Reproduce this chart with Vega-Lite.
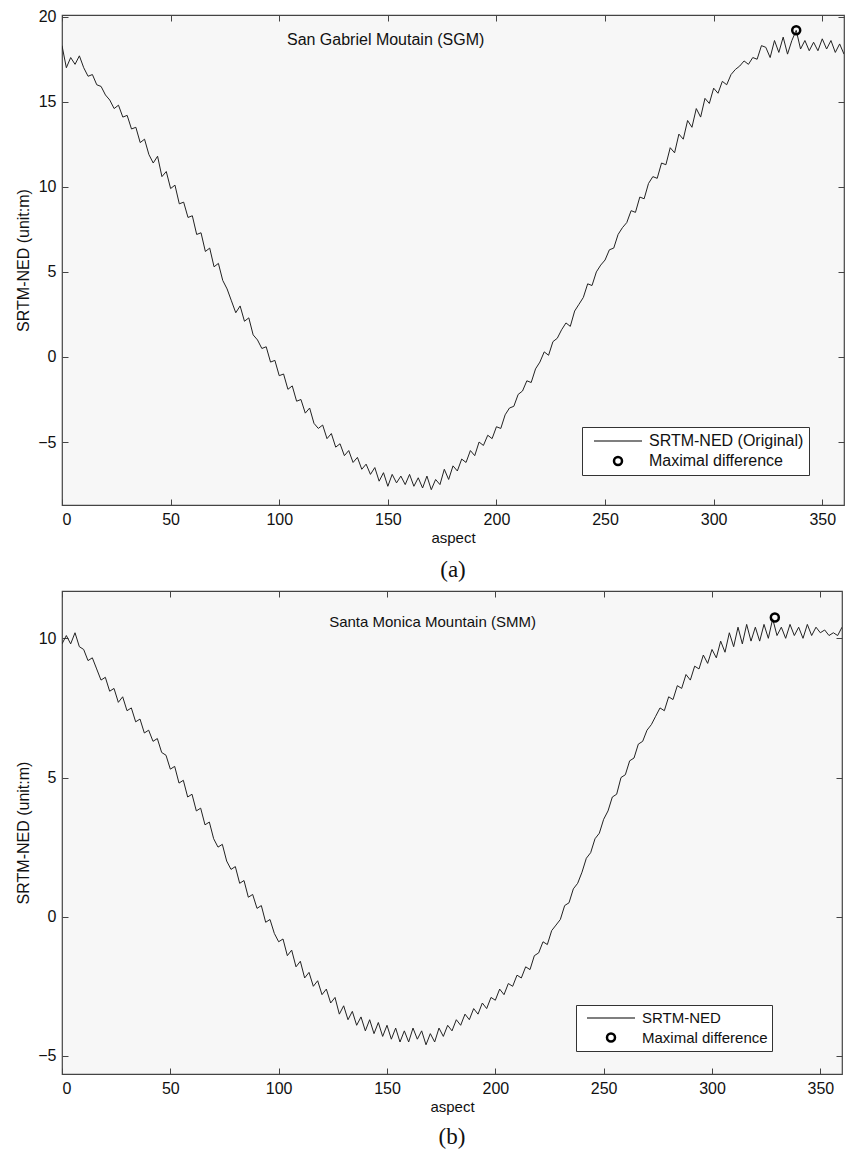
{
  "$schema": "https://vega.github.io/schema/vega-lite/v6.json",
  "background": "white",
  "padding": {"left": 15, "top": 8, "right": 0, "bottom": 0},
  "spacing": 6,
  "config": {
    "font": "Liberation Sans",
    "view": {"fill": "#f7f7f7", "stroke": "#444", "strokeWidth": 1.2},
    "axis": {"domain": false, "grid": false, "tickColor": "#444", "tickSize": -6, "labelPadding": 12, "labelFontSize": 16, "labelColor": "#111", "titleFontSize": 16, "titleFontWeight": "normal", "titleColor": "#111", "labelFont": "Liberation Sans", "titleFont": "Liberation Sans"},
    "legend": {"orient": "none", "strokeColor": "#333", "fillColor": "white", "labelLimit": 300, "labelColor": "#111", "labelFont": "Liberation Sans", "symbolOffset": 22, "labelOffset": 22},
    "title": {"font": "Liberation Serif", "fontWeight": "normal", "color": "#111"}
  },
  "datasets": {
    "a": [
      {"x":0,"y":18.3},{"x":2,"y":17.0},{"x":4,"y":17.6},{"x":6,"y":17.2},{"x":8,"y":17.7},{"x":10,"y":17.0},{"x":12,"y":16.5},{"x":14,"y":16.6},{"x":16,"y":16.0},{"x":18,"y":15.9},
      {"x":20,"y":15.4},{"x":22,"y":15.1},{"x":24,"y":14.6},{"x":26,"y":14.8},{"x":28,"y":14.1},{"x":30,"y":14.2},{"x":32,"y":13.4},{"x":34,"y":13.5},{"x":36,"y":12.6},{"x":38,"y":12.8},
      {"x":40,"y":11.9},{"x":42,"y":11.4},{"x":44,"y":11.8},{"x":46,"y":10.6},{"x":48,"y":10.9},{"x":50,"y":9.9},{"x":52,"y":10.1},{"x":54,"y":9.0},{"x":56,"y":9.1},{"x":58,"y":8.2},
      {"x":60,"y":8.3},{"x":62,"y":7.2},{"x":64,"y":7.3},{"x":66,"y":6.2},{"x":68,"y":6.4},{"x":70,"y":5.3},{"x":72,"y":5.5},{"x":74,"y":4.5},{"x":76,"y":4.0},{"x":78,"y":3.3},
      {"x":80,"y":2.6},{"x":82,"y":3.0},{"x":84,"y":2.1},{"x":86,"y":2.3},{"x":88,"y":1.3},{"x":90,"y":1.0},{"x":92,"y":0.5},{"x":94,"y":0.6},{"x":96,"y":-0.3},{"x":98,"y":-0.2},
      {"x":100,"y":-1.1},{"x":102,"y":-1.0},{"x":104,"y":-1.9},{"x":106,"y":-1.7},{"x":108,"y":-2.6},{"x":110,"y":-2.5},{"x":112,"y":-3.3},{"x":114,"y":-3.0},{"x":116,"y":-3.9},{"x":118,"y":-4.2},
      {"x":120,"y":-4.0},{"x":122,"y":-4.8},{"x":124,"y":-4.5},{"x":126,"y":-5.3},{"x":128,"y":-5.1},{"x":130,"y":-5.8},{"x":132,"y":-5.5},{"x":134,"y":-6.2},{"x":136,"y":-5.9},{"x":138,"y":-6.6},
      {"x":140,"y":-6.3},{"x":142,"y":-6.9},{"x":144,"y":-6.5},{"x":146,"y":-7.3},{"x":148,"y":-6.8},{"x":150,"y":-7.6},{"x":152,"y":-6.9},{"x":154,"y":-7.4},{"x":156,"y":-7.0},{"x":158,"y":-7.5},
      {"x":160,"y":-6.9},{"x":162,"y":-7.6},{"x":164,"y":-7.1},{"x":166,"y":-7.7},{"x":168,"y":-7.0},{"x":170,"y":-7.8},{"x":172,"y":-7.2},{"x":174,"y":-7.5},{"x":176,"y":-6.6},{"x":178,"y":-7.2},
      {"x":180,"y":-6.4},{"x":182,"y":-6.7},{"x":184,"y":-6.0},{"x":186,"y":-6.2},{"x":188,"y":-5.5},{"x":190,"y":-5.8},{"x":192,"y":-5.0},{"x":194,"y":-5.2},{"x":196,"y":-4.6},{"x":198,"y":-4.8},
      {"x":200,"y":-4.1},{"x":202,"y":-4.2},{"x":204,"y":-3.4},{"x":206,"y":-3.0},{"x":208,"y":-2.9},{"x":210,"y":-2.2},{"x":212,"y":-2.0},{"x":214,"y":-1.4},{"x":216,"y":-1.5},{"x":218,"y":-0.7},
      {"x":220,"y":-0.3},{"x":222,"y":0.3},{"x":224,"y":0.1},{"x":226,"y":0.9},{"x":228,"y":1.1},{"x":230,"y":1.6},{"x":232,"y":2.0},{"x":234,"y":1.8},{"x":236,"y":2.7},{"x":238,"y":3.1},
      {"x":240,"y":3.5},{"x":242,"y":4.3},{"x":244,"y":4.2},{"x":246,"y":5.0},{"x":248,"y":5.4},{"x":250,"y":5.7},{"x":252,"y":6.3},{"x":254,"y":6.4},{"x":256,"y":7.2},{"x":258,"y":7.6},
      {"x":260,"y":7.9},{"x":262,"y":8.6},{"x":264,"y":8.5},{"x":266,"y":9.4},{"x":268,"y":9.3},{"x":270,"y":10.2},{"x":272,"y":10.6},{"x":274,"y":10.5},{"x":276,"y":11.4},{"x":278,"y":11.3},
      {"x":280,"y":12.3},{"x":282,"y":12.0},{"x":284,"y":13.1},{"x":286,"y":12.8},{"x":288,"y":13.9},{"x":290,"y":13.5},{"x":292,"y":14.6},{"x":294,"y":14.1},{"x":296,"y":15.2},{"x":298,"y":14.9},
      {"x":300,"y":15.8},{"x":302,"y":15.5},{"x":304,"y":16.2},{"x":306,"y":16.0},{"x":308,"y":16.6},{"x":310,"y":16.9},{"x":312,"y":17.1},{"x":314,"y":17.4},{"x":316,"y":17.2},{"x":318,"y":17.6},
      {"x":320,"y":17.5},{"x":322,"y":18.3},{"x":324,"y":18.2},{"x":326,"y":17.6},{"x":328,"y":18.6},{"x":330,"y":17.9},{"x":332,"y":18.8},{"x":334,"y":17.8},{"x":336,"y":18.6},{"x":338,"y":19.2},
      {"x":340,"y":18.1},{"x":342,"y":18.6},{"x":344,"y":18.0},{"x":346,"y":18.5},{"x":348,"y":18.0},{"x":350,"y":18.7},{"x":352,"y":18.1},{"x":354,"y":18.6},{"x":356,"y":17.9},{"x":358,"y":18.4},
      {"x":360,"y":17.8}
    ],
    "b": [
      {"x":0,"y":9.8},{"x":2,"y":10.1},{"x":4,"y":9.8},{"x":6,"y":10.2},{"x":8,"y":9.7},{"x":10,"y":9.6},{"x":12,"y":9.2},{"x":14,"y":9.3},{"x":16,"y":8.9},{"x":18,"y":8.5},
      {"x":20,"y":8.6},{"x":22,"y":8.1},{"x":24,"y":8.2},{"x":26,"y":7.7},{"x":28,"y":7.9},{"x":30,"y":7.4},{"x":32,"y":7.5},{"x":34,"y":7.0},{"x":36,"y":7.1},{"x":38,"y":6.6},
      {"x":40,"y":6.7},{"x":42,"y":6.3},{"x":44,"y":6.4},{"x":46,"y":5.9},{"x":48,"y":5.8},{"x":50,"y":5.3},{"x":52,"y":5.4},{"x":54,"y":4.8},{"x":56,"y":4.9},{"x":58,"y":4.3},
      {"x":60,"y":4.4},{"x":62,"y":3.8},{"x":64,"y":3.9},{"x":66,"y":3.3},{"x":68,"y":3.4},{"x":70,"y":2.8},{"x":72,"y":2.5},{"x":74,"y":2.6},{"x":76,"y":2.0},{"x":78,"y":1.7},
      {"x":80,"y":1.8},{"x":82,"y":1.2},{"x":84,"y":1.3},{"x":86,"y":0.7},{"x":88,"y":0.8},{"x":90,"y":0.3},{"x":92,"y":0.4},{"x":94,"y":-0.2},{"x":96,"y":-0.1},{"x":98,"y":-0.6},
      {"x":100,"y":-0.9},{"x":102,"y":-0.8},{"x":104,"y":-1.4},{"x":106,"y":-1.2},{"x":108,"y":-1.8},{"x":110,"y":-1.6},{"x":112,"y":-2.2},{"x":114,"y":-2.0},{"x":116,"y":-2.5},{"x":118,"y":-2.3},
      {"x":120,"y":-2.8},{"x":122,"y":-2.6},{"x":124,"y":-3.1},{"x":126,"y":-2.9},{"x":128,"y":-3.5},{"x":130,"y":-3.2},{"x":132,"y":-3.7},{"x":134,"y":-3.4},{"x":136,"y":-3.9},{"x":138,"y":-3.6},
      {"x":140,"y":-4.1},{"x":142,"y":-3.7},{"x":144,"y":-4.2},{"x":146,"y":-3.8},{"x":148,"y":-4.3},{"x":150,"y":-3.9},{"x":152,"y":-4.4},{"x":154,"y":-4.0},{"x":156,"y":-4.5},{"x":158,"y":-4.1},
      {"x":160,"y":-4.5},{"x":162,"y":-4.0},{"x":164,"y":-4.4},{"x":166,"y":-4.1},{"x":168,"y":-4.6},{"x":170,"y":-4.2},{"x":172,"y":-4.5},{"x":174,"y":-4.0},{"x":176,"y":-4.3},{"x":178,"y":-3.9},
      {"x":180,"y":-4.1},{"x":182,"y":-3.7},{"x":184,"y":-3.9},{"x":186,"y":-3.5},{"x":188,"y":-3.7},{"x":190,"y":-3.3},{"x":192,"y":-3.5},{"x":194,"y":-3.1},{"x":196,"y":-3.3},{"x":198,"y":-2.9},
      {"x":200,"y":-3.0},{"x":202,"y":-2.6},{"x":204,"y":-2.8},{"x":206,"y":-2.4},{"x":208,"y":-2.5},{"x":210,"y":-2.1},{"x":212,"y":-2.2},{"x":214,"y":-1.8},{"x":216,"y":-1.9},{"x":218,"y":-1.4},
      {"x":220,"y":-1.3},{"x":222,"y":-0.9},{"x":224,"y":-1.0},{"x":226,"y":-0.5},{"x":228,"y":-0.3},{"x":230,"y":-0.1},{"x":232,"y":0.4},{"x":234,"y":0.5},{"x":236,"y":1.0},{"x":238,"y":1.2},
      {"x":240,"y":1.6},{"x":242,"y":2.1},{"x":244,"y":2.3},{"x":246,"y":2.8},{"x":248,"y":3.0},{"x":250,"y":3.5},{"x":252,"y":3.8},{"x":254,"y":4.3},{"x":256,"y":4.4},{"x":258,"y":5.0},
      {"x":260,"y":5.1},{"x":262,"y":5.6},{"x":264,"y":5.7},{"x":266,"y":6.2},{"x":268,"y":6.3},{"x":270,"y":6.7},{"x":272,"y":6.9},{"x":274,"y":7.2},{"x":276,"y":7.5},{"x":278,"y":7.4},
      {"x":280,"y":7.9},{"x":282,"y":7.8},{"x":284,"y":8.3},{"x":286,"y":8.2},{"x":288,"y":8.7},{"x":290,"y":8.5},{"x":292,"y":9.0},{"x":294,"y":8.9},{"x":296,"y":9.4},{"x":298,"y":9.1},
      {"x":300,"y":9.6},{"x":302,"y":9.3},{"x":304,"y":9.9},{"x":306,"y":9.5},{"x":308,"y":10.2},{"x":310,"y":9.7},{"x":312,"y":10.4},{"x":314,"y":9.8},{"x":316,"y":10.5},{"x":318,"y":9.9},
      {"x":320,"y":10.4},{"x":322,"y":9.9},{"x":324,"y":10.5},{"x":326,"y":10.0},{"x":328,"y":10.7},{"x":330,"y":10.1},{"x":332,"y":10.4},{"x":334,"y":10.0},{"x":336,"y":10.5},{"x":338,"y":10.1},
      {"x":340,"y":10.4},{"x":342,"y":10.0},{"x":344,"y":10.5},{"x":346,"y":10.1},{"x":348,"y":10.4},{"x":350,"y":10.2},{"x":352,"y":10.3},{"x":354,"y":10.1},{"x":356,"y":10.2},{"x":358,"y":10.1},
      {"x":360,"y":10.4}
    ]
  },
  "resolve": {"scale": {"x": "independent", "y": "independent", "shape": "independent", "strokeWidth": "independent", "size": "independent"}, "legend": {"shape": "independent", "strokeWidth": "independent", "size": "independent"}},
  "vconcat": [
    {
      "width": 782,
      "height": 490,
      "title": {"text": "(a)", "orient": "bottom", "fontSize": 23, "offset": 14},
      "layer": [
        {
          "data": {"name": "a"},
          "mark": {"type": "line", "color": "#222", "strokeWidth": 1, "clip": true},
          "encoding": {
            "x": {"field": "x", "type": "quantitative", "scale": {"domain": [0, 360], "nice": false, "zero": false},
                  "axis": {"orient": "bottom", "values": [0, 50, 100, 150, 200, 250, 300, 350], "title": "aspect", "titleFontSize": 15, "titlePadding": 3}},
            "y": {"field": "y", "type": "quantitative", "scale": {"domain": [-8.7, 20.1], "nice": false, "zero": false},
                  "axis": {"orient": "left", "values": [-5, 0, 5, 10, 15, 20], "title": "SRTM-NED (unit:m)", "titlePadding": 6}}
          }
        },
        {
          "data": {"values": [{"x": 338, "y": 19.2, "s": "Maximal difference"}]},
          "mark": {"type": "point", "filled": false, "color": "black", "opacity": 1},
          "encoding": {
            "x": {"field": "x", "type": "quantitative", "axis": null},
            "y": {"field": "y", "type": "quantitative", "axis": null},
            "shape": {"field": "s", "type": "nominal", "scale": {"domain": ["SRTM-NED (Original)", "Maximal difference"], "range": ["M-3,0H3", "circle"]},
                      "legend": {"title": null, "legendX": 520, "legendY": 412, "labelFontSize": 16, "rowPadding": 3, "padding": 5}},
            "size": {"field": "s", "type": "ordinal", "scale": {"domain": ["SRTM-NED (Original)", "Maximal difference"], "range": [256, 64]},
                      "legend": {"title": null, "legendX": 520, "legendY": 412, "labelFontSize": 16, "rowPadding": 3, "padding": 5}},
            "strokeWidth": {"field": "s", "type": "ordinal", "scale": {"domain": ["SRTM-NED (Original)", "Maximal difference"], "range": [1.2, 2.5]},
                      "legend": {"title": null, "legendX": 520, "legendY": 412, "labelFontSize": 16, "rowPadding": 3, "padding": 5}}
          }
        },
        {
          "data": {"values": [{"x": 149, "y": 18.65, "t": "San Gabriel Moutain (SGM)"}]},
          "mark": {"type": "text", "fontSize": 16, "color": "#111"},
          "encoding": {
            "x": {"field": "x", "type": "quantitative", "axis": null},
            "y": {"field": "y", "type": "quantitative", "axis": null},
            "text": {"field": "t"}
          }
        },
        {
          "data": {"name": "a"},
          "mark": {"type": "line", "opacity": 0},
          "encoding": {
            "x": {"field": "x", "type": "quantitative", "axis": {"orient": "top", "labels": false, "title": null, "values": [0, 50, 100, 150, 200, 250, 300, 350]}},
            "y": {"field": "y", "type": "quantitative", "axis": {"orient": "right", "labels": false, "title": null, "values": [-5, 0, 5, 10, 15, 20]}}
          }
        }
      ],
      "resolve": {"axis": {"x": "independent", "y": "independent"}}
    },
    {
      "width": 780,
      "height": 483,
      "title": {"text": "(b)", "orient": "bottom", "fontSize": 23, "offset": 12},
      "layer": [
        {
          "data": {"name": "b"},
          "mark": {"type": "line", "color": "#222", "strokeWidth": 1, "clip": true},
          "encoding": {
            "x": {"field": "x", "type": "quantitative", "scale": {"domain": [0, 360], "nice": false, "zero": false},
                  "axis": {"orient": "bottom", "values": [0, 50, 100, 150, 200, 250, 300, 350], "title": "aspect", "titleFontSize": 15, "titlePadding": 3}},
            "y": {"field": "y", "type": "quantitative", "scale": {"domain": [-5.65, 11.7], "nice": false, "zero": false},
                  "axis": {"orient": "left", "values": [-5, 0, 5, 10], "title": "SRTM-NED (unit:m)", "titlePadding": 6}}
          }
        },
        {
          "data": {"values": [{"x": 329, "y": 10.75, "s": "Maximal difference"}]},
          "mark": {"type": "point", "filled": false, "color": "black", "opacity": 1},
          "encoding": {
            "x": {"field": "x", "type": "quantitative", "axis": null},
            "y": {"field": "y", "type": "quantitative", "axis": null},
            "shape": {"field": "s", "type": "nominal", "scale": {"domain": ["SRTM-NED", "Maximal difference"], "range": ["M-3,0H3", "circle"]},
                      "legend": {"title": null, "legendX": 514, "legendY": 414, "labelFontSize": 15, "rowPadding": 2, "padding": 4}},
            "size": {"field": "s", "type": "ordinal", "scale": {"domain": ["SRTM-NED", "Maximal difference"], "range": [256, 64]},
                      "legend": {"title": null, "legendX": 514, "legendY": 414, "labelFontSize": 15, "rowPadding": 2, "padding": 4}},
            "strokeWidth": {"field": "s", "type": "ordinal", "scale": {"domain": ["SRTM-NED", "Maximal difference"], "range": [1.2, 2.5]},
                      "legend": {"title": null, "legendX": 514, "legendY": 414, "labelFontSize": 15, "rowPadding": 2, "padding": 4}}
          }
        },
        {
          "data": {"values": [{"x": 171, "y": 10.6, "t": "Santa Monica Mountain (SMM)"}]},
          "mark": {"type": "text", "fontSize": 15, "color": "#111"},
          "encoding": {
            "x": {"field": "x", "type": "quantitative", "axis": null},
            "y": {"field": "y", "type": "quantitative", "axis": null},
            "text": {"field": "t"}
          }
        },
        {
          "data": {"name": "b"},
          "mark": {"type": "line", "opacity": 0},
          "encoding": {
            "x": {"field": "x", "type": "quantitative", "axis": {"orient": "top", "labels": false, "title": null, "values": [0, 50, 100, 150, 200, 250, 300, 350]}},
            "y": {"field": "y", "type": "quantitative", "axis": {"orient": "right", "labels": false, "title": null, "values": [-5, 0, 5, 10]}}
          }
        }
      ],
      "resolve": {"axis": {"x": "independent", "y": "independent"}}
    }
  ]
}
